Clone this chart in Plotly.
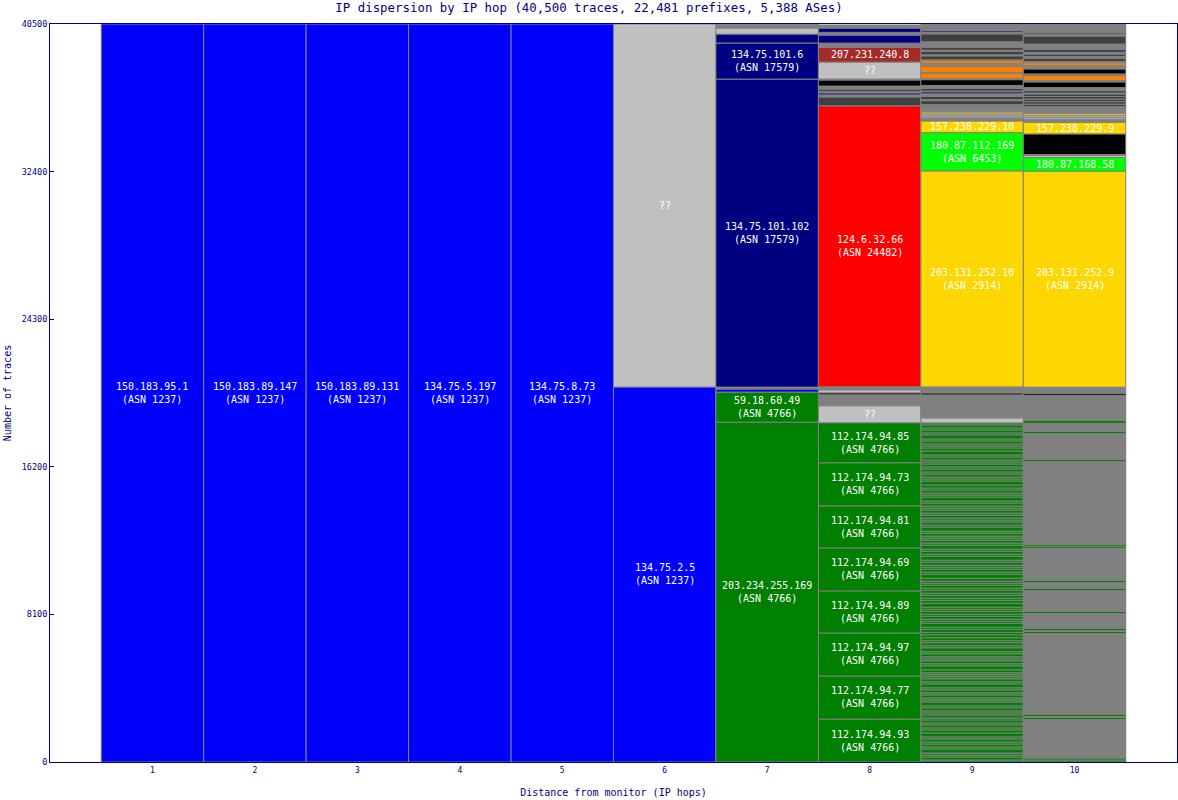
import plotly.graph_objects as go

title = "IP dispersion by IP hop (40,500 traces, 22,481 prefixes, 5,388 ASes)"
y_ticks = [0, 8100, 16200, 24300, 32400, 40500]
hops = [1, 2, 3, 4, 5, 6, 7, 8, 9, 10]

# segments per hop, bottom to top: (traces, group, ip, asn)
hop1 = [(40500, "AS1237", "150.183.95.1", "1237")]
hop2 = [(40500, "AS1237", "150.183.89.147", "1237")]
hop3 = [(40500, "AS1237", "150.183.89.131", "1237")]
hop4 = [(40500, "AS1237", "134.75.5.197", "1237")]
hop5 = [(40500, "AS1237", "134.75.8.73", "1237")]
hop6 = [(20580, "AS1237", "134.75.2.5", "1237"),
        (19920, "noreply", "??", "")]
hop7 = [(18650, "AS4766", "203.234.255.169", "4766"),
        (1650, "AS4766", "59.18.60.49", "4766"),
        (165, "AS1237", "", ""),
        (110, "other", "", ""),
        (16900, "AS17579", "134.75.101.102", "17579"),
        (1980, "AS17579", "134.75.101.6", "17579"),
        (490, "AS17579", "", ""),
        (330, "noreply", "", ""),
        (225, "other", "", "")]
hop8 = [(2360, "AS4766", "112.174.94.93", "4766"),
        (2360, "AS4766", "112.174.94.77", "4766"),
        (2360, "AS4766", "112.174.94.97", "4766"),
        (2310, "AS4766", "112.174.94.89", "4766"),
        (2360, "AS4766", "112.174.94.69", "4766"),
        (2310, "AS4766", "112.174.94.81", "4766"),
        (2360, "AS4766", "112.174.94.73", "4766"),
        (2200, "AS4766", "112.174.94.85", "4766"),
        (930, "noreply", "??", ""),
        (600, "other", "", ""),
        (110, "misc_black", "", ""),
        (165, "noreply", "", ""),
        (165, "other", "", ""),
        (15420, "AS24482", "124.6.32.66", "24482"),
        (490, "misc_dark", "", ""),
        (110, "other", "", ""),
        (110, "AS17579", "", ""),
        (80, "other", "", ""),
        (130, "misc_dark", "", ""),
        (165, "other", "", ""),
        (330, "misc_black", "", ""),
        (55, "other", "", ""),
        (930, "noreply", "??", ""),
        (820, "misc_brown", "207.231.240.8", ""),
        (220, "other", "", ""),
        (440, "AS17579", "", ""),
        (150, "other", "", ""),
        (235, "AS17579", "", ""),
        (170, "other", "", "")]

# many small AS4766 addresses at hop 9 (thin stripes)
hop9_stripes = [110, 165, 110, 110, 220, 110, 165, 110, 165, 110, 220, 165, 110, 165, 110, 165, 110,
                165, 110, 110, 165, 110, 220, 110, 110, 165, 110, 165, 110, 220, 110, 165, 110,
                110, 110, 165, 220, 110, 165, 110, 110, 165, 110, 220, 110, 165, 110, 165, 165, 130,
                165, 110, 220, 110, 110, 165, 110, 165, 110, 110, 220, 165, 110, 165, 110, 165,
                110, 165, 110, 110, 165, 220, 110, 165, 110, 110, 165, 110, 220, 110, 165, 110,
                220, 110, 165, 110, 110, 165, 110, 220, 110, 165, 110, 110, 165, 110, 165, 110,
                110, 165, 110, 220, 110, 110, 165, 110, 165, 220, 110, 110, 165, 110, 165, 110,
                165, 110, 110, 165, 110, 220, 165, 110, 110, 165, 110, 220, 110, 165, 110, 165, 110]
hop9_upper = [(275, "noreply", "", ""),
              (1260, "other", "", ""),
              (110, "misc_black", "", ""),
              (330, "other", "", ""),
              (11855, "AS2914", "203.131.252.10", "2914"),
              (2100, "AS6453", "180.87.112.169", "6453"),
              (640, "AS2914", "157.238.229.10", ""),
              (165, "other", "", ""),
              (110, "noreply", "", ""),
              (110, "noreply", "", ""),
              (110, "AS2914", "", ""),
              (400, "other", "", ""),
              (220, "misc_dark", "", ""),
              (55, "other", "", ""),
              (180, "misc_dark", "", ""),
              (140, "other", "", ""),
              (110, "AS17579", "", ""),
              (40, "other", "", ""),
              (145, "misc_dark", "", ""),
              (165, "other", "", ""),
              (315, "misc_black", "", ""),
              (70, "other", "", ""),
              (275, "misc_orange", "", ""),
              (55, "other", "", ""),
              (330, "misc_orange", "", ""),
              (50, "other", "", ""),
              (80, "misc_orange", "", ""),
              (45, "other", "", ""),
              (150, "misc_orange", "", ""),
              (35, "other", "", ""),
              (220, "misc_dark", "", ""),
              (55, "other", "", ""),
              (200, "misc_dark", "", ""),
              (55, "other", "", ""),
              (165, "misc_dark", "", ""),
              (290, "other", "", ""),
              (440, "misc_dark", "", ""),
              (100, "other", "", ""),
              (80, "AS17579", "", ""),
              (360, "other", "", "")]
hop10 = [(110, "AS4766", "", ""), (110, "AS4766", "", ""),
         (2110, "other", "", ""),
         (110, "AS4766", "", ""), (55, "other", "", ""), (110, "AS4766", "", ""),
         (4445, "other", "", ""),
         (110, "AS4766", "", ""), (55, "other", "", ""), (110, "AS4766", "", ""),
         (825, "other", "", ""),
         (110, "AS4766", "", ""),
         (1150, "other", "", ""),
         (110, "AS4766", "", ""),
         (330, "other", "", ""),
         (110, "AS4766", "", ""),
         (1775, "other", "", ""),
         (110, "AS4766", "", ""), (110, "AS4766", "", ""),
         (4540, "other", "", ""),
         (110, "AS4766", "", ""),
         (1425, "other", "", ""),
         (110, "AS4766", "", ""),
         (455, "other", "", ""),
         (165, "AS4766", "", ""),
         (1370, "other", "", ""),
         (110, "misc_black", "", ""),
         (330, "other", "", ""),
         (11855, "AS2914", "203.131.252.9", "2914"),
         (750, "AS6453", "180.87.168.58", ""),
         (110, "noreply", "", ""),
         (55, "other", "", ""),
         (1130, "misc_black", "", ""),
         (640, "AS2914", "157.238.229.9", ""),
         (165, "other", "", ""),
         (110, "noreply", "", ""),
         (110, "noreply", "", ""),
         (110, "AS2914", "", ""),
         (355, "other", "", ""),
         (140, "misc_dark", "", ""), (140, "misc_dark", "", ""), (140, "misc_dark", "", ""),
         (140, "misc_dark", "", ""), (140, "misc_dark", "", ""),
         (55, "other", "", ""),
         (130, "misc_dark", "", ""),
         (165, "other", "", ""),
         (315, "misc_black", "", ""),
         (70, "other", "", ""),
         (275, "misc_orange", "", ""),
         (90, "other", "", ""),
         (275, "misc_black", "", ""),
         (65, "other", "", ""),
         (80, "misc_orange", "", ""),
         (45, "other", "", ""),
         (150, "misc_orange", "", ""),
         (70, "other", "", ""),
         (165, "misc_dark", "", ""),
         (110, "other", "", ""),
         (130, "misc_dark", "", ""),
         (95, "other", "", ""),
         (165, "misc_dark", "", ""),
         (290, "other", "", ""),
         (440, "misc_dark", "", ""),
         (110, "other", "", ""),
         (80, "misc_dark", "", ""),
         (470, "other", "", "")]

hop9 = [(v, "AS4766", "", "") for v in hop9_stripes] + hop9_upper
columns = [hop1, hop2, hop3, hop4, hop5, hop6, hop7, hop8, hop9, hop10]

colors = {
    "AS1237": "#0000FF", "AS4766": "#008000", "AS17579": "#000080",
    "AS24482": "#FF0000", "AS2914": "#FFD700", "AS6453": "#00FF00",
    "noreply": "#C0C0C0", "other": "#808080", "misc_dark": "#404040",
    "misc_black": "#000000", "misc_orange": "#FF8000", "misc_brown": "#A52A2A",
}
navy = "#000080"
mono = "DejaVu Sans Mono"

xs, ys, bases, cols = [], [], [], []
notes = []
for hop, segs in zip(hops, columns):
    acc = 0
    for traces, group, ip, asn in segs:
        xs.append(hop)
        ys.append(traces)
        bases.append(acc)
        cols.append(colors[group])
        if ip:
            txt = ip + ("<br>(ASN %s)" % asn if asn else "")
            notes.append(dict(x=hop, y=acc + traces / 2, text=txt, showarrow=False,
                              font=dict(family=mono, size=10, color="white")))
        acc += traces

fig = go.Figure(go.Bar(x=xs, y=ys, base=bases, width=1,
                       marker=dict(color=cols, line=dict(color="#808080", width=1)),
                       hoverinfo="skip"))

fig.update_layout(
    width=1178, height=800,
    margin=dict(l=50, r=1, t=24, b=38),
    paper_bgcolor="white", plot_bgcolor="white",
    barmode="overlay", showlegend=False,
    title=dict(text=title, x=0.5, xanchor="center", y=0.99, yanchor="middle",
               font=dict(family=mono, size=12.4, color=navy)),
    annotations=notes,
)
fig.update_xaxes(range=[0, 11], tickvals=hops, showgrid=False, zeroline=False,
                 automargin=False,
                 showline=True, linecolor=navy, linewidth=1, mirror=True, ticks="",
                 tickfont=dict(family=mono, size=8, color=navy),
                 title=dict(text="Distance from monitor (IP hops)", standoff=15,
                            font=dict(family=mono, size=10, color=navy)))
fig.update_yaxes(range=[0, 40500], tickvals=y_ticks, tickformat="d",
                 showgrid=False, zeroline=False, automargin=False,
                 showline=True, linecolor=navy, linewidth=1, mirror=True,
                 ticks="inside", ticklen=4, tickcolor=navy,
                 tickfont=dict(family=mono, size=8.5, color=navy),
                 title=dict(text="Number of traces", standoff=8,
                            font=dict(family=mono, size=10, color=navy)))

# page body has a default 8px margin; drop it so the figure sits at the corner
fig.write_html("out.html", config={"displayModeBar": False},
               post_script="document.body.style.margin='0px';")
